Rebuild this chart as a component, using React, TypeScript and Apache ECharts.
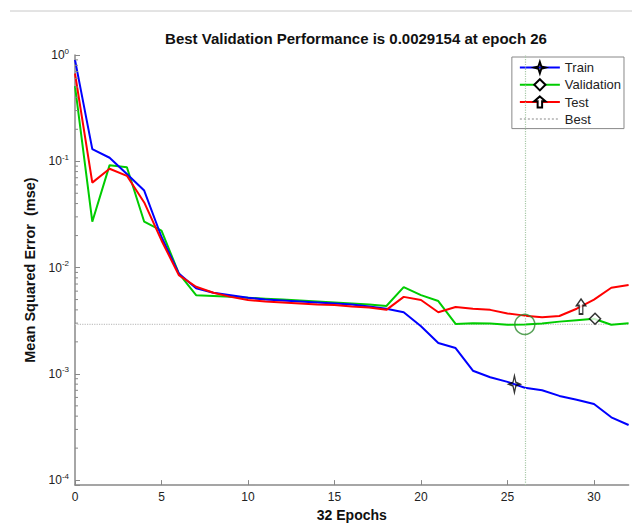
import React, { useEffect, useRef } from 'react';
import * as echarts from 'echarts';

const FONT = "'Liberation Sans', Arial, Helvetica, sans-serif";

const epochs = [0, 1, 2, 3, 4, 5, 6, 7, 8, 9, 10, 11, 12, 13, 14, 15, 16, 17, 18, 19, 20, 21, 22, 23, 24, 25, 26, 27, 28, 29, 30, 31, 32];

const trainPerf = [0.90, 0.13, 0.108, 0.076, 0.053, 0.0194, 0.0088, 0.0064, 0.0058, 0.0055, 0.0052, 0.0050, 0.0049, 0.0048, 0.0047, 0.0046, 0.0045, 0.0043, 0.0041, 0.0038, 0.0028, 0.00195, 0.00175, 0.00107, 0.00093, 0.00084, 0.00074, 0.00070, 0.00062, 0.00057, 0.00052, 0.00039, 0.00033];

const valPerf = [0.51, 0.027, 0.092, 0.088, 0.027, 0.0223, 0.0088, 0.0055, 0.0054, 0.0053, 0.0052, 0.0051, 0.0050, 0.0049, 0.0048, 0.0047, 0.0046, 0.0045, 0.00435, 0.00655, 0.0055, 0.00484, 0.00295, 0.0030, 0.00298, 0.0029, 0.0029154, 0.00298, 0.0031, 0.0032, 0.0033, 0.0029, 0.0030];

const testPerf = [0.67, 0.063, 0.085, 0.073, 0.041, 0.018, 0.0085, 0.0066, 0.0058, 0.0053, 0.00495, 0.0048, 0.0047, 0.0046, 0.0045, 0.00445, 0.0043, 0.0042, 0.0040, 0.0053, 0.00495, 0.0038, 0.00425, 0.0041, 0.0040, 0.0037, 0.00353, 0.0034, 0.0035, 0.0041, 0.0050, 0.00646, 0.00684];

const bestEpoch = 26;
const bestPerf = 0.0029154;

const trainMarker = [25.4, 0.00080];
const valMarker = [30.06, 0.0033];
const testMarker = [29.25, 0.0043];

const minorTickValues = [
  0.0002, 0.0003, 0.0004, 0.0005, 0.0006, 0.0007, 0.0008, 0.0009,
  0.002, 0.003, 0.004, 0.005, 0.006, 0.007, 0.008, 0.009,
  0.02, 0.03, 0.04, 0.05, 0.06, 0.07, 0.08, 0.09,
  0.2, 0.3, 0.4, 0.5, 0.6, 0.7, 0.8, 0.9,
];

const STAR = 'path://M10,0 L12.6,12 L20,15 L12.6,18 L10,30 L7.4,18 L0,15 L7.4,12 Z';
const DIAMOND = 'path://M10,0 L20,10 L10,20 L0,10 Z';
const ARROW = 'path://M5,0 L10,6 L7,6 L7,14 L3,14 L3,6 L0,6 Z';

export default function App() {
  const ref = useRef<HTMLDivElement>(null);
  useEffect(() => {
    if (!ref.current) return;
    const chart = echarts.init(ref.current, undefined, { renderer: 'svg' });
    const pair = (arr: number[]) => epochs.map((e, i) => [e, arr[i]]);
    chart.setOption({
      animation: false,
      backgroundColor: '#fff',
      textStyle: { fontFamily: FONT },
      title: {
        text: 'Best Validation Performance is 0.0029154 at epoch 26',
        left: 351,
        textAlign: 'center',
        top: 26,
        textStyle: { fontSize: 15, fontWeight: 'bold', color: '#111', fontFamily: FONT },
      },
      graphic: [
        { type: 'line', shape: { x1: 10, y1: 11, x2: 632, y2: 11 }, style: { stroke: '#c8c8c8', lineWidth: 1 } },
      ],
      legend: {
        data: [
          { name: 'Train' },
          { name: 'Validation' },
          { name: 'Test' },
          { name: 'Best', itemStyle: { opacity: 0 } },
        ],
        orient: 'vertical',
        right: 8,
        top: 57,
        itemWidth: 40,
        itemHeight: 14,
        itemGap: 4,
        padding: [4, 3, 3, 7],
        borderColor: '#888',
        borderWidth: 1,
        backgroundColor: '#fff',
        textStyle: { fontSize: 13, color: '#222', fontFamily: FONT },
      },
      grid: { left: 75, right: 3.4, top: 55, bottom: 37 },
      xAxis: {
        type: 'value',
        min: 0,
        max: 32,
        interval: 5,
        name: '32 Epochs',
        nameLocation: 'middle',
        nameGap: 16,
        nameTextStyle: { fontSize: 14, fontWeight: 'bold', color: '#111', fontFamily: FONT },
        axisLine: { show: true, lineStyle: { color: '#888', width: 1.5 } },
        axisTick: { show: true, inside: true, length: 5, lineStyle: { color: '#888' } },
        axisLabel: { fontSize: 12, color: '#222', margin: 6, showMaxLabel: false, fontFamily: FONT },
        splitLine: { show: false },
      },
      yAxis: {
        type: 'log',
        logBase: 10,
        min: 0.0000898,
        max: 1,
        name: 'Mean Squared Error  (mse)',
        nameLocation: 'middle',
        nameGap: 30,
        nameTextStyle: { fontSize: 14.5, fontWeight: 'bold', color: '#111', fontFamily: FONT },
        axisLine: { show: true, lineStyle: { color: '#888', width: 1.5 } },
        axisTick: { show: true, inside: true, length: 5, lineStyle: { color: '#888' } },
        axisLabel: {
          margin: 6,
          formatter: (v: number) => {
            const e = Math.log10(v);
            const r = Math.round(e);
            if (Math.abs(e - r) > 0.01) return '';
            return `{b|10}{s|${r}}`;
          },
          rich: {
            b: { fontSize: 12, color: '#222', fontFamily: FONT },
            s: { fontSize: 8, color: '#222', fontFamily: FONT, padding: [0, 0, 8, 0] },
          },
        },
        splitLine: { show: false },
      },
      series: [
        {
          type: 'custom',
          name: 'minorTicks',
          silent: true,
          clip: false,
          z: 5,
          data: minorTickValues.map((v) => [0, v]),
          encode: { x: 0, y: 1 },
          renderItem: (params: any, api: any) => {
            const p = api.coord([0, api.value(1)]);
            return {
              type: 'line',
              shape: { x1: p[0], y1: p[1], x2: p[0] + 3, y2: p[1] },
              style: { stroke: '#888', lineWidth: 1 },
            };
          },
        },
        {
          name: 'Train',
          type: 'line',
          data: pair(trainPerf),
          showSymbol: false,
          symbol: STAR,
          itemStyle: { color: 'rgba(0,0,0,0)', borderColor: '#000', borderWidth: 1.5 },
          lineStyle: { color: '#0000ff', width: 2 },
          z: 3,
        },
        {
          name: 'Validation',
          type: 'line',
          data: pair(valPerf),
          showSymbol: false,
          symbol: DIAMOND,
          itemStyle: { color: '#fff', borderColor: '#000', borderWidth: 1.5 },
          lineStyle: { color: '#00cc00', width: 2 },
          z: 2,
        },
        {
          name: 'Test',
          type: 'line',
          data: pair(testPerf),
          showSymbol: false,
          symbol: ARROW,
          itemStyle: { color: '#fff', borderColor: '#000', borderWidth: 1.5 },
          lineStyle: { color: '#ff0000', width: 2 },
          z: 4,
        },
        {
          name: 'Best',
          type: 'line',
          data: [[0, bestPerf], [32, bestPerf]],
          showSymbol: false,
          symbol: 'none',
          itemStyle: { color: '#bbb' },
          lineStyle: { color: '#c4c4c4', width: 1.2, type: 'dotted' },
          z: 1,
          markLine: {
            silent: true,
            symbol: 'none',
            label: { show: false },
            lineStyle: { color: '#a9c9a9', width: 1.2, type: 'dotted' },
            data: [{ xAxis: bestEpoch }],
          },
        },
        {
          name: 'bestCircle',
          type: 'scatter',
          data: [[bestEpoch, bestPerf]],
          symbol: 'circle',
          symbolSize: 20,
          itemStyle: { color: 'rgba(0,0,0,0)', borderColor: '#2e8b2e', borderWidth: 1.5 },
          z: 6,
        },
        {
          name: 'trainMark',
          type: 'scatter',
          data: [trainMarker],
          symbol: STAR,
          symbolSize: [11, 17],
          itemStyle: { color: 'rgba(0,0,0,0)', borderColor: '#000', borderWidth: 1.5 },
          z: 7,
        },
        {
          name: 'valMark',
          type: 'scatter',
          data: [valMarker],
          symbol: DIAMOND,
          symbolSize: 11,
          itemStyle: { color: '#fff', borderColor: '#000', borderWidth: 1.5 },
          z: 7,
        },
        {
          name: 'testMark',
          type: 'scatter',
          data: [testMarker],
          symbol: ARROW,
          symbolSize: [9, 15],
          itemStyle: { color: '#fff', borderColor: '#000', borderWidth: 1.5 },
          z: 7,
        },
      ],
    });
    return () => chart.dispose();
  }, []);
  return <div ref={ref} style={{ width: 632, height: 527, position: 'absolute', left: 0, top: 0 }} />;
}
